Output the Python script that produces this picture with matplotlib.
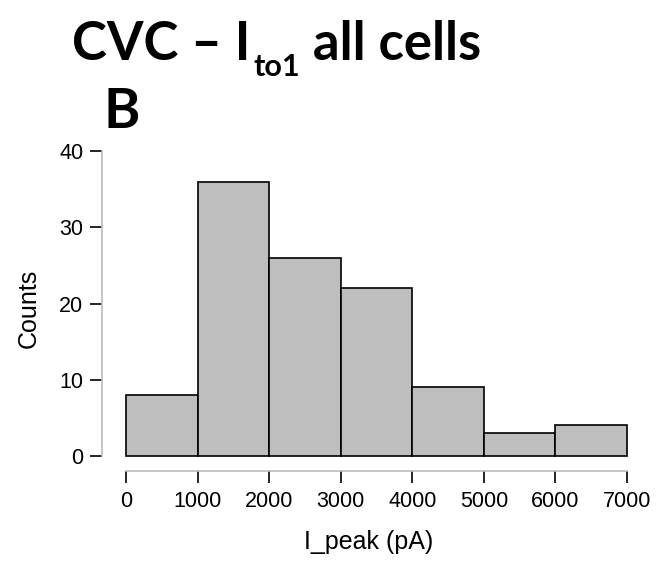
import matplotlib
matplotlib.use("Agg")
import matplotlib.pyplot as plt
import numpy as np

bin_edges = [0, 1000, 2000, 3000, 4000, 5000, 6000, 7000]
counts = [8, 36, 26, 22, 9, 3, 4]
x_ticks = [0, 1000, 2000, 3000, 4000, 5000, 6000, 7000]
y_ticks = [0, 10, 20, 30, 40]

W, H = 657, 563
fig = plt.figure(figsize=(W/100, H/100), dpi=100)

def fx(px): return px / W
def fy(py): return 1 - py / H

ax = fig.add_axes([fx(102), fy(471), fx(635) - fx(102), fy(145) - fy(471)])
ax.set_xlim(-335, 7112)
ax.set_ylim(-1.97, 40.8)

lefts = np.array(bin_edges[:-1])
widths = np.diff(bin_edges)
ax.bar(lefts, counts, width=widths, align='edge', color='#BEBEBE',
       edgecolor='black', linewidth=1.2, clip_on=False)

for s in ['top', 'right']:
    ax.spines[s].set_visible(False)
ax.spines['left'].set_bounds(0, 40)
ax.spines['bottom'].set_bounds(0, 7000)
for s in ['left', 'bottom']:
    ax.spines[s].set_color('#BBBBBB')
    ax.spines[s].set_linewidth(1.2)

tick_font = dict(family=['Liberation Sans', 'DejaVu Sans'], size=15.5)
ax.set_xticks(x_ticks)
ax.set_xticklabels([str(t) for t in x_ticks], fontdict=tick_font)
ax.set_yticks(y_ticks)
ax.set_yticklabels([str(t) for t in y_ticks], fontdict=tick_font)
ax.tick_params(axis='both', length=8.5, width=1.2, color='black', pad=5)
ax.tick_params(axis='x', pad=6)

ax.set_xlabel('I_peak (pA)', fontdict=dict(family=['Liberation Sans'], size=18), labelpad=13)
ax.set_ylabel('Counts', fontdict=dict(family=['Liberation Sans'], size=18), labelpad=13)

# Title pieces
tfont = dict(family=['Lato', 'DejaVu Sans'], weight='bold')
big = 38
renderer = fig.canvas.get_renderer()
x0 = fx(72)
base = fy(60)
t1 = fig.text(x0, base, 'CVC – I', fontsize=big, va='baseline', ha='left', **tfont)
bb = t1.get_window_extent(renderer)
x1 = bb.x1 / W + fx(3)
t2 = fig.text(x1, base - 16/H, 'to1', fontsize=big*0.58, va='baseline', ha='left', **tfont)
bb2 = t2.get_window_extent(renderer)
x2 = bb2.x1 / W
fig.text(x2, base, ' all cells', fontsize=big, va='baseline', ha='left', **tfont)

fig.text(fx(104), fy(128), 'B', fontsize=big * 1.05, va='baseline', ha='left', **tfont)

fig.savefig('out.png', dpi=100)
